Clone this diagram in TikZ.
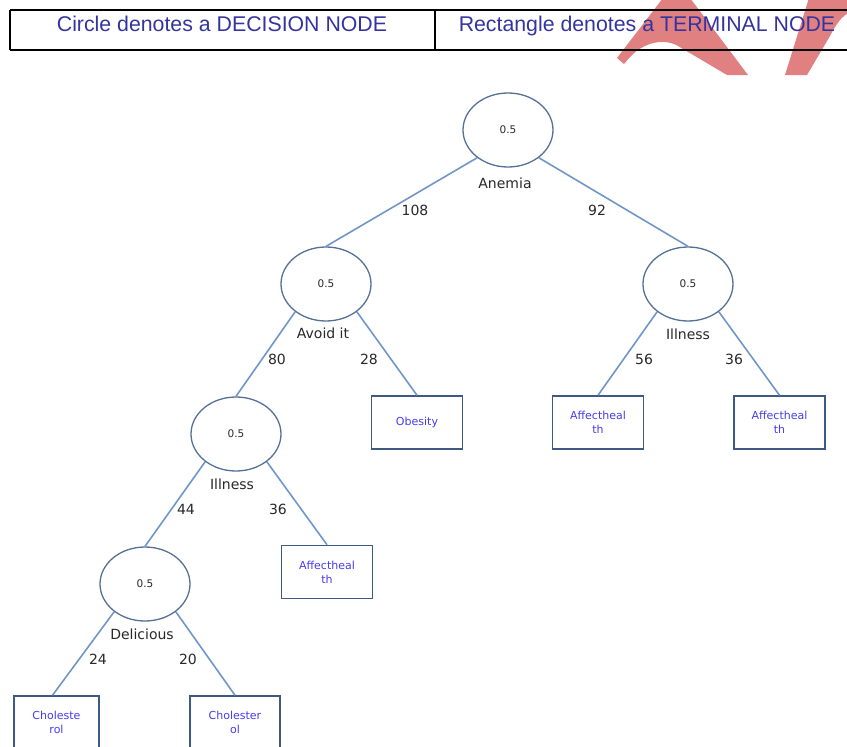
\documentclass[tikz,border=0pt]{standalone}
\usepackage{fontspec}
\setmainfont{Liberation Sans}
\newfontfamily\treefont{DejaVu Sans}
\usetikzlibrary{shapes.geometric}
\definecolor{headblue}{RGB}{52,52,160}
\definecolor{markred}{RGB}{224,128,128}
\definecolor{ringblue}{RGB}{84,112,150}
\definecolor{linkblue}{RGB}{112,150,200}
\definecolor{boxblue}{RGB}{62,90,130}
\definecolor{leafink}{RGB}{70,60,240}
\definecolor{labelink}{RGB}{40,40,40}

\begin{document}
\begin{tikzpicture}[x=1pt,y=-1pt]
\tikzset{decision/.style = {shape=ellipse,draw=ringblue,line width=1.3pt,minimum width=90pt,minimum height=74pt,inner sep=0pt,text=labelink,font=\treefont\fontsize{10.5}{12}\selectfont}}
\tikzset{terminal/.style = {shape=rectangle,draw=boxblue,line width=1.5pt,minimum width=91pt,minimum height=53pt,inner sep=0pt,align=center,text=leafink,font=\treefont\fontsize{11}{14}\selectfont}}
\tikzset{edge/.style = {draw=linkblue,line width=1.6pt}}
\tikzset{lbl/.style = {inner sep=0pt,text=labelink,font=\treefont\fontsize{14}{16}\selectfont}}
\tikzset{headtext/.style = {inner sep=0pt,anchor=base,text=headblue,font=\fontsize{21.3}{24}\selectfont}}
\useasboundingbox (0,0) rectangle (847,747);
\clip (0,0) rectangle (847,747);

% watermark
\fill[markred] (617,58) -- (663,-2) -- (690,-2) -- (748,75) -- (727,75) -- (678,46)
  .. controls (664,38) and (644,42) .. (630,57) -- (624,64) -- cycle;
\fill[markred] (785,75) -- (809,-2) -- (850,-2) -- (850,12)
  .. controls (842,16) and (836,24) .. (830,36) -- (807,75) -- cycle;

% legend table
\draw[line width=2pt] (10,10) -- (870,10);
\draw[line width=2pt] (10,50) -- (870,50);
\draw[line width=2pt] (10,10) -- (10,50);
\draw[line width=2pt] (435,10) -- (435,50);
\node[headtext] (decisionnote) at (222,31) {Circle denotes a DECISION NODE};
\node[headtext] (terminalnote) at (647,31) {Rectangle denotes a TERMINAL NODE};

% decision nodes
\node[decision] (anemia) at (508,130) {0.5};
\node[decision] (avoid) at (326,284) {0.5};
\node[decision] (illnessR) at (688,284) {0.5};
\node[decision] (illnessL) at (236,434) {0.5};
\node[decision] (delicious) at (145,584) {0.5};

% terminal nodes
\node[terminal] (obesity) at (417,422.5) {Obesity};
\node[terminal] (affectA) at (598,422.5) {Affectheal\\th};
\node[terminal] (affectB) at (779.5,422.5) {Affectheal\\th};
\node[terminal] (affectC) at (327,572) {Affectheal\\th};
\node[terminal,minimum width=85pt] (cholA) at (56.5,722.5) {Choleste\\rol};
\node[terminal,minimum width=90pt] (cholB) at (235,722.5) {Cholester\\ol};

% attribute names
\node[lbl] (anemianame) at (505,183) {Anemia};
\node[lbl] (avoidname) at (323,333) {Avoid it};
\node[lbl] (illnessRname) at (688,334) {Illness};
\node[lbl] (illnessLname) at (232,484) {Illness};
\node[lbl] (deliciousname) at (142,634) {Delicious};

% counts
\node[lbl] (n108) at (415,210) {108};
\node[lbl] (n92) at (597,210) {92};
\node[lbl] (n80) at (277,359) {80};
\node[lbl] (n28) at (369,359) {28};
\node[lbl] (n56) at (644,359) {56};
\node[lbl] (n36a) at (734,359) {36};
\node[lbl] (n44) at (186,509) {44};
\node[lbl] (n36b) at (278,509) {36};
\node[lbl] (n24) at (98,659) {24};
\node[lbl] (n20) at (188,659) {20};

\draw[edge] (anemia.-138) to (avoid.north);
\draw[edge] (anemia.-42) to (illnessR.north);
\draw[edge] (avoid.-138) to (illnessL.north);
\draw[edge] (avoid.-42) to (obesity.north);
\draw[edge] (illnessR.-138) to (affectA.north);
\draw[edge] (illnessR.-42) to (affectB.north);
\draw[edge] (illnessL.-138) to (delicious.north);
\draw[edge] (illnessL.-42) to (affectC.north);
\draw[edge] (delicious.-138) to ([xshift=-4pt]cholA.north);
\draw[edge] (delicious.-42) to (cholB.north);
\end{tikzpicture}
\end{document}
